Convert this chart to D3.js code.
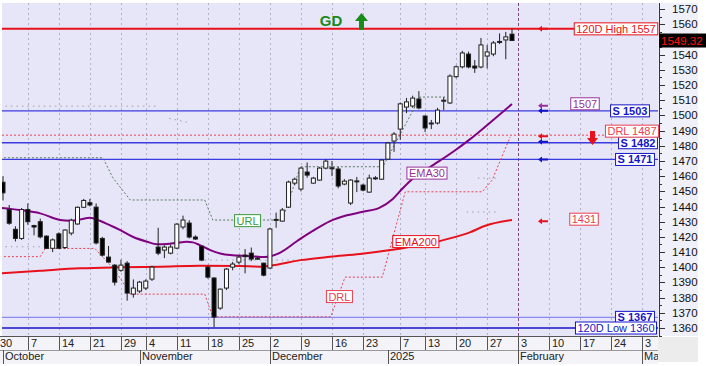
<!DOCTYPE html>
<html><head><meta charset="utf-8">
<script src="https://cdn.jsdelivr.net/npm/d3@7"></script>
<style>
body{margin:0;background:#fff;}
svg{display:block;font-family:"Liberation Sans",Arial,sans-serif;}
</style>
</head><body><svg id="c" width="706" height="366"></svg>
<script>
// ---------- DATA ----------
const candleOpen  = [1456,1438,1425,1419,1438,1427.5,1430,1420.5,1412.5,1422,1413,1422.5,1428.5,1439.5,1442.5,1439.6,1419,1406.7,1401.4,1398,1402.7,1382.3,1384.3,1386.3,1392.2,1413.3,1411.3,1409.3,1412.6,1426.5,1429.1,1419.9,1413.9,1400.1,1392.9,1373.1,1386.3,1400.1,1403.4,1408,1409.3,1406,1402.7,1399.5,1431,1430.4,1439.6,1455.4,1451.5,1462.7,1455.4,1457.4,1465.3,1465.5,1464.7,1454.8,1442.3,1456.5,1454.1,1449.5,1458.5,1458,1471.2,1483.1,1491,1505.5,1506.2,1510.8,1499.6,1494.5,1495,1509.5,1508.2,1525.5,1532,1540.4,1532.5,1531.9,1539.1,1540.4,1548.3,1549.7,1553.5];
const candleHigh  = [1460,1441,1427,1439,1442,1428,1432,1421,1419,1423,1425,1432,1440,1445,1445,1442,1420,1414,1402,1405,1404,1392,1391,1392,1401,1426,1414.5,1415,1429,1434,1431,1421,1414.5,1401,1393.5,1386,1399.5,1403.5,1408,1412,1413,1407,1403,1426,1436,1439,1457,1459,1466,1469,1459.5,1466,1471,1470,1466,1458,1458,1459.5,1455,1461,1460,1471,1482.5,1489,1508.5,1511.5,1513,1516,1500,1497,1505,1512,1527,1533,1542.5,1542,1536.5,1551,1546.4,1549,1554,1555,1557];
const candleLow   = [1444,1428,1417,1418,1428,1421,1419,1412,1410,1412,1412,1421,1428,1439,1440,1415,1407,1403,1388,1397,1378,1380,1383,1385,1391,1408,1406,1408.5,1412,1425,1419,1418,1404,1392.5,1360.5,1372,1385,1398,1402,1396,1404,1405,1394,1399,1426,1430,1439,1454,1450,1459,1455,1457,1464.5,1460,1452,1454,1441,1449.5,1450,1449,1457.5,1457.5,1471,1476,1484,1501.5,1505,1504,1489,1491,1494,1503.5,1507.5,1524.5,1531,1531,1528,1531,1531,1539,1547,1537,1549];
const candleClose = [1449,1429,1419,1438,1430,1426.5,1420,1412.5,1418,1412.5,1424.5,1431,1439.5,1444,1441,1416,1408,1403.4,1390.2,1401.4,1383,1386.3,1390.2,1390.9,1400.1,1409.3,1413.3,1413.3,1428.4,1431.1,1419.9,1418.6,1404.7,1393.5,1367.2,1385.6,1398.8,1402.1,1406.7,1407,1405.4,1405.6,1394.8,1425.2,1431.5,1437.7,1456.1,1458,1465.3,1460.7,1458.7,1465.3,1469.9,1465,1453.5,1456.7,1457.4,1456.9,1450.8,1458.7,1458.9,1470.6,1481.8,1487.7,1507.6,1508.9,1511.4,1504.9,1491.7,1495,1503.5,1510,1525.9,1532,1541.1,1531.9,1531.2,1546.4,1541.8,1547.7,1548.7,1551.7,1549.32];

// EMA30 and EMA200: [day index, value]
const ema30  = [[-0.5,1439.2],[2.7,1437.7],[6,1435.5],[9.2,1431.1],[10.8,1430.6],[12.4,1431.5],[14,1432.6],[15.6,1430.6],[17.2,1427.7],[18.9,1424.5],[20.9,1420.1],[23.2,1416.8],[24.8,1415.1],[26.4,1415.3],[28,1416.1],[29.6,1416.8],[30.6,1416.4],[31.7,1414.6],[33.4,1411.3],[35,1409.1],[36.6,1408],[39.8,1407.3],[42.2,1406.7],[44.6,1409.5],[47.4,1417.3],[49.9,1423.9],[52.7,1430.4],[55.4,1434.2],[58,1436.5],[60.7,1439.3],[62.8,1445],[64.4,1452],[65.9,1458],[68.8,1466],[72.8,1476.9],[75.2,1484.2],[78.5,1495.4],[82,1507.5]];
const ema200 = [[-0.5,1396],[6,1397.7],[12.4,1399.3],[18.9,1400],[25.3,1400.4],[31.7,1401],[38.2,1400.8],[41.4,1400.4],[43,1401],[47.9,1404.7],[52.7,1406.9],[57.5,1408.7],[62.4,1411.3],[65.6,1413.5],[68.8,1415.7],[72,1419],[75.2,1423],[77.7,1427.3],[82,1431.1]];
// Reversal lines (step lines)
const drlLine = [[-0.5,1407],[6,1407],[6.8,1412.4],[14.8,1412.4],[17.6,1400],[19.3,1390.2],[20.5,1382.3],[32.5,1382.3],[33.8,1367.4],[52.8,1367.4],[55.1,1393.5],[61.1,1393.5],[64.8,1449.7],[77.2,1449.7],[78.8,1457.4],[81.7,1485.8]];
const urlLine = [[-0.5,1472.1],[16.1,1472.1],[17.7,1458.9],[20.5,1444.3],[32.5,1444.3],[33.8,1431.1],[45,1431.1],[47.9,1466.2],[61.2,1466.2],[67.2,1512.1],[71.2,1512.1]];
// faint earlier reference lines (grey dotted)
const greySegments = [
  [[-0.5,1506.1],[24.8,1506.1]],
  [[26.8,1498],[30,1495.2],[30.1,1495.2]],
  [[-0.5,1413.5],[6.4,1413.5]],
  [[32.5,1404.7],[47.8,1404.7]],
  [[74.7,1436.4],[79.5,1436.4]],
  [[76.5,1458.7],[80,1458.7]]
];

// Horizontal levels
const levelValues = [1557, 1503, 1482, 1471, 1367, 1360];
const levelNames  = ["120D High 1557","S 1503","S 1482","S 1471","S 1367","120D Low 1360"];
const drlLevel = 1487;
const ema30Last = 1507, ema200Last = 1431, lastPrice = 1549.32;

// Axis ticks (trading-day index)
const dayTickIdx    = [-1,4,9,14,19,23,28,33,38,43,48,53,58,64,68,73,78,83,88,93,98,103];
const dayTickLabels = ["30","7","14","21","29","4","11","18","25","2","9","16","23","7","13","20","27","3","10","17","24","3"];
const monthIdx    = [0,22,43,62,83,103];
const monthLabels = ["October","November","December","2025","February","Mar"];
const priceTicks = d3.range(1360, 1571, 10);

// ---------- CHART ----------
const svg = d3.select("#c");
const P = {l:2, r:658, t:3, b:336};
const x = d3.scaleLinear().domain([0, 82]).range([3, 512]);
const y = d3.scaleLinear().domain([1360, 1560]).range([328, 24.3]);

svg.append("rect").attr("x",0).attr("y",0).attr("width",706).attr("height",366).attr("fill","#ffffff");
svg.append("rect").attr("x",P.l).attr("y",P.t).attr("width",P.r-P.l).attr("height",P.b-P.t).attr("fill","#e6e6f8");
svg.append("rect").attr("x",P.r).attr("y",P.t).attr("width",706-P.r-8).attr("height",P.b-P.t).attr("fill","#f0f0fa");
svg.append("rect").attr("x",0).attr("y",P.b).attr("width",P.r).attr("height",28).attr("fill","#f4f4f8");
svg.append("rect").attr("x",P.r).attr("y",P.b+1).attr("width",40).attr("height",25).attr("fill","#ececec");

svg.append("clipPath").attr("id","clip").append("rect").attr("x",P.l).attr("y",P.t).attr("width",P.r-P.l).attr("height",P.b-P.t);
svg.append("clipPath").attr("id","clipx").append("rect").attr("x",0).attr("y",P.b).attr("width",P.r).attr("height",30);
const g = svg.append("g").attr("clip-path","url(#clip)");

// vertical grid
g.selectAll(".vg").data(dayTickIdx).join("line")
  .attr("x1",d=>Math.round(x(d))+0.5).attr("x2",d=>Math.round(x(d))+0.5).attr("y1",P.t).attr("y2",P.b)
  .attr("stroke", d=> d===83 ? "#7a4a7a" : "#b0b0c8")
  .attr("stroke-width",1).attr("stroke-dasharray", d=> d===83 ? "3,2" : "2,3");

const line = d3.line().x(d=>x(d[0])).y(d=>y(d[1]));
greySegments.forEach(s=>{
  g.append("path").datum(s).attr("d",line).attr("fill","none")
    .attr("stroke","#a0a0a8").attr("stroke-width",1).attr("stroke-dasharray","1.5,4");
});

// horizontal level lines
const levelColors = ["#e8101a","#3b3be0","#3b3be0","#3b3be0","#8a8af0","#1515c8"];
g.selectAll(".lv").data(levelValues).join("line")
  .attr("x1",P.l).attr("x2",P.r).attr("y1",d=>y(d)).attr("y2",d=>y(d))
  .attr("stroke",(d,i)=>levelColors[i]).attr("stroke-width",(d,i)=> i===0?2:1.3);
g.append("line").attr("x1",P.l).attr("x2",P.r).attr("y1",y(drlLevel)).attr("y2",y(drlLevel))
  .attr("stroke","#e84050").attr("stroke-width",1).attr("stroke-dasharray","2,2");

// step lines
g.append("path").datum(urlLine).attr("d",line).attr("fill","none")
  .attr("stroke","#5a7a5a").attr("stroke-width",1).attr("stroke-dasharray","2,2");
g.append("path").datum(drlLine).attr("d",line).attr("fill","none")
  .attr("stroke","#e84050").attr("stroke-width",1).attr("stroke-dasharray","2,2");

// EMAs
const smooth = d3.line().x(d=>x(d[0])).y(d=>y(d[1])).curve(d3.curveMonotoneX);
g.append("path").datum(ema200).attr("d",smooth).attr("fill","none").attr("stroke","#e8101a").attr("stroke-width",2);
g.append("path").datum(ema30).attr("d",smooth).attr("fill","none").attr("stroke","#800080").attr("stroke-width",2);

// candles
const idx = d3.range(candleOpen.length);
const bw = 4;
g.selectAll(".wick").data(idx).join("line")
  .attr("x1",i=>x(i)).attr("x2",i=>x(i)).attr("y1",i=>y(candleHigh[i])).attr("y2",i=>y(candleLow[i]))
  .attr("stroke","#202020").attr("stroke-width",1);
g.selectAll(".body").data(idx).join("rect")
  .attr("x",i=>x(i)-bw/2).attr("width",bw)
  .attr("y",i=>y(Math.max(candleOpen[i],candleClose[i])))
  .attr("height",i=>Math.max(1,Math.abs(y(candleOpen[i])-y(candleClose[i]))))
  .attr("fill",i=> candleClose[i]<candleOpen[i] ? "#000" : "#fff")
  .attr("stroke","#202020").attr("stroke-width",1);

// labels inside plot
function box(txt, cx, cy, color, opts={}) {
  const fs = opts.fs || 11;
  const t = svg.append("text").attr("x",cx).attr("y",cy).attr("font-size",fs)
    .attr("font-weight",opts.bold?"bold":"normal").attr("fill",color)
    .attr("text-anchor","middle").attr("dominant-baseline","central").text(txt);
  const bb = t.node().getBBox();
  svg.insert("rect", () => t.node()).attr("x",bb.x-2).attr("y",cy-6).attr("width",bb.width+4).attr("height",12)
    .attr("fill",opts.fill||"#fff").attr("stroke",color).attr("stroke-width",1);
}
box("EMA30", x(68.3), y(1462), "#993399");
box("EMA200", x(66.5), y(1416.9), "#e8101a");
box("URL", x(39.4), y(1430.7), "#3a9a3a");
box("DRL", x(54.2), y(1380.7), "#e84050");

// right-side labels
const rightX = [616, 630, 638, 635, 635, 616];
levelValues.forEach((v,i)=>{
  const c = (i>0 && i<5) ? "#1515c8" : levelColors[i];
  box(levelNames[i], rightX[i], y(v), c, {bold:i>0 && i<5});
});
box("DRL 1487", 632, y(drlLevel)-4, "#e84050");
box(String(ema30Last), 585, y(ema30Last)-1, "#993399");
box(String(ema200Last), 584, y(ema200Last)-1, "#e84050");

// small arrows at x ~ 540
function arrow(cx, cy, color) {
  svg.append("path").attr("d",`M${cx-5},${cy} L${cx-1},${cy-3} L${cx-1},${cy-1} L${cx+5},${cy-1} L${cx+5},${cy+1} L${cx-1},${cy+1} L${cx-1},${cy+3} Z`)
    .attr("fill",color);
}
arrow(543, y(1557), "#e8101a");
arrow(543, y(ema30Last)+1, "#993399");
arrow(543, y(1503), "#1515c8");
arrow(543, y(drlLevel)+1, "#e8101a");
arrow(543, y(1482)-1, "#1515c8");
arrow(543, y(1471), "#1515c8");
arrow(543, y(ema200Last)+1, "#e8101a");
// big red down arrow
svg.append("path").attr("d","M590,131 L595,131 L595,138 L598,138 L592.5,145 L587,138 L590,138 Z").attr("fill","#e8101a");

// GD + green up arrow
svg.append("text").attr("x",331).attr("y",26).attr("font-size",15).attr("font-weight","bold")
  .attr("fill","#1a8a1a").attr("text-anchor","middle").text("GD");
svg.append("path").attr("d","M361.5,13 L368,21 L364,21 L364,30 L359,30 L359,21 L355,21 Z").attr("fill","#1a8a1a");

// ---------- RIGHT AXIS ----------
const ay = svg.append("g").attr("transform",`translate(${P.r+1},0)`);
ay.append("line").attr("x1",0.5).attr("x2",0.5).attr("y1",P.t).attr("y2",P.b).attr("stroke","#333");
ay.selectAll(".mt").data(d3.range(1355,1575,5)).join("line")
  .attr("x1",0).attr("x2",d=>d%10===0?6:3).attr("y1",d=>Math.round(y(d))+0.5).attr("y2",d=>Math.round(y(d))+0.5)
  .attr("stroke","#333");
// tick labels (the one hidden under the last-price box is not shown, as in the source)
ay.selectAll(".tl").data(priceTicks.filter(d=>Math.abs(y(d)-y(lastPrice))>8)).join("text")
  .attr("x",13).attr("y",d=>y(d)).attr("dominant-baseline","central")
  .attr("font-size",11.5).attr("fill","#111").text(d=>d);
// last price label
svg.append("rect").attr("x",P.r+1).attr("y",y(lastPrice)-7).attr("width",47).attr("height",14).attr("fill","#000");
svg.append("text").attr("x",P.r+3).attr("y",y(lastPrice)).attr("dominant-baseline","central")
  .attr("font-size",11.5).attr("fill","#ff1010").text(lastPrice.toFixed(2));

// ---------- BOTTOM AXIS ----------
const ax = svg.append("g").attr("clip-path","url(#clipx)");
ax.append("line").attr("x1",0).attr("x2",P.r).attr("y1",P.b+0.5).attr("y2",P.b+0.5).attr("stroke","#555");
ax.append("line").attr("x1",0).attr("x2",P.r).attr("y1",350.5).attr("y2",350.5).attr("stroke","#999");
ax.selectAll(".dt").data(dayTickIdx).join("line")
  .attr("x1",d=>Math.round(x(d))+0.5).attr("x2",d=>Math.round(x(d))+0.5).attr("y1",P.b).attr("y2",350)
  .attr("stroke","#555");
ax.selectAll(".dl").data(dayTickIdx).join("text")
  .attr("x",d=>Math.round(x(d))+3).attr("y",347).attr("font-size",11).attr("fill","#222")
  .text((d,i)=>dayTickLabels[i]);
ax.selectAll(".mtk").data(monthIdx).join("line")
  .attr("x1",d=>Math.round(x(d))+0.5).attr("x2",d=>Math.round(x(d))+0.5).attr("y1",350).attr("y2",364)
  .attr("stroke","#555");
ax.selectAll(".ml").data(monthIdx).join("text")
  .attr("x",d=>Math.round(x(d))+2).attr("y",360).attr("font-size",11).attr("fill","#222")
  .text((d,i)=>monthLabels[i]);
</script>
</body></html>
